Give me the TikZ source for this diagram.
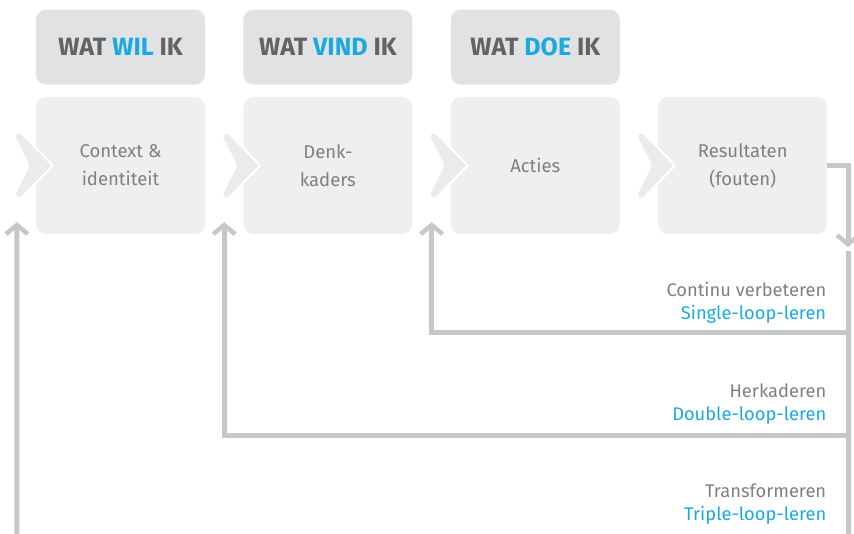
\documentclass[tikz,border=0pt]{standalone}
\usepackage{fontspec}
\setmainfont{Fira Sans}
\usetikzlibrary{arrows.meta,positioning,calc}
\definecolor{boxgrey}{HTML}{EFEFEF}
\definecolor{headgrey}{HTML}{E1E2E3}
\definecolor{chevgrey}{HTML}{EBEBEB}
\definecolor{linegrey}{HTML}{C6C7C8}
\definecolor{txtgrey}{HTML}{808080}
\definecolor{darkgrey}{HTML}{626365}
\definecolor{skyblue}{HTML}{1BA9E1}
\newcommand{\blu}[1]{\textcolor{skyblue}{#1}}
\tikzset{stepbox/.style={rounded corners=10pt,fill=boxgrey,minimum width=169pt,minimum height=137pt,align=center,inner sep=0pt,text=txtgrey,font=\fontsize{18.5}{28}\selectfont},headbox/.style={rounded corners=10pt,fill=headgrey,minimum width=169pt,minimum height=75pt,align=center,inner sep=0pt,text=darkgrey,font=\fontsize{25}{28}\selectfont\bfseries},note/.style={anchor=south east,align=right,inner sep=0pt,text=txtgrey,font=\fontsize{18.3}{23}\selectfont},rail/.style={line width=5pt,draw=linegrey},loop/.style={rail,-{Straight Barb[length=9pt,width=22pt,line width=4.5pt]}},chevron/.pic={\filldraw[fill=chevgrey,draw=white,line width=2pt,rounded corners=2pt] (-22,30) -- (-16,34) -- (17,0) -- (-16,-34) -- (-22,-30) -- (-7,0) -- cycle;}}
\begin{document}
\begin{tikzpicture}[x=1pt,y=1pt,node distance=38pt]
\useasboundingbox (0,0) rectangle (854,534);
\node[stepbox] (ctx) at (120.5,368.5) {Context \&\\identiteit};
\node[stepbox,right=of ctx] (denk) {Denk-\\kaders};
\node[stepbox,right=of denk] (act) {Acties};
\node[stepbox,right=of act] (res) {Resultaten\\(fouten)};
\node[headbox,above=12pt of ctx] (wil) {WAT \blu{WIL} IK};
\node[headbox,above=12pt of denk] (vind) {WAT \blu{VIND} IK};
\node[headbox,above=12pt of act] (doe) {WAT \blu{DOE} IK};
% chevrons in front of each step
\foreach \b in {ctx,denk,act,res} \pic at (\b.west) {chevron};
% loops
\coordinate (down) at (848,287);
\coordinate (railtop) at (848,283);
\coordinate (railbot) at (848,0);
\coordinate (single) at (848,201);
\coordinate (double) at (848,98);
\coordinate (triple) at (17,0);
\coordinate (tipa) at ($(ctx.south west)+(-19,12)$);
\coordinate (tipb) at ($(ctx.south east)!.5!(denk.south west)+(0,12)$);
\coordinate (tipc) at ($(denk.south east)!.5!(act.south west)+(0,12)$);
\draw[loop] (res.east) -| (down);
\draw[rail] (railtop) -- (railbot);
\draw[loop] (single) -| (tipc);
\draw[loop] (double) -| (tipb);
\draw[loop] (triple) -- (tipa);
\node[note] (cont) at ($(res.east|-single)+(-1,9)$) {Continu verbeteren\\\blu{Single-loop-leren}};
\node[note] (herk) at ($(res.east|-double)+(-1,11)$) {Herkaderen\\\blu{Double-loop-leren}};
\node[note] (trans) at ($(res.east|-triple)+(-1,9)$) {Transformeren\\\blu{Triple-loop-leren}};
\end{tikzpicture}
\end{document}
